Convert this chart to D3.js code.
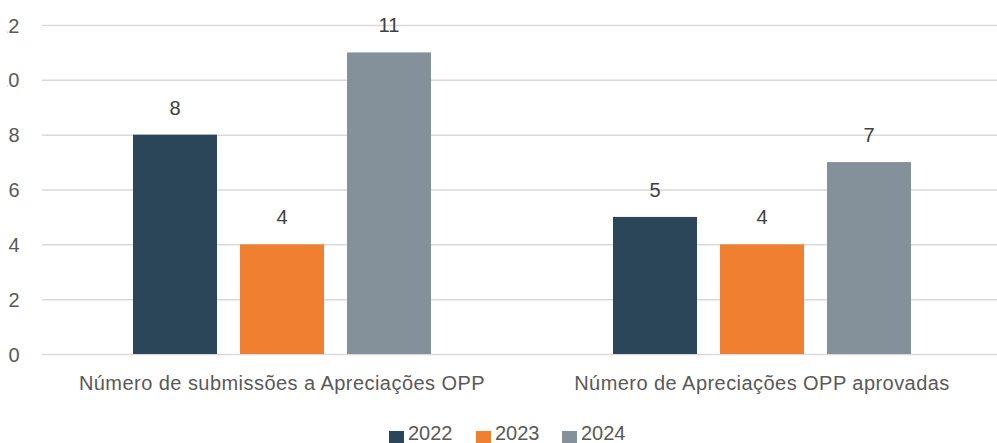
<!DOCTYPE html>
<html>
<head>
<meta charset="utf-8">
<script src="https://cdn.jsdelivr.net/npm/d3@7"></script>
<style>
  html, body { margin: 0; padding: 0; background: #fff; }
  svg { display: block; }
  text { font-family: "Liberation Sans", Arial, sans-serif; }
</style>
</head>
<body>
<svg id="chart" width="997" height="443"></svg>
<script>
// Indicator categories and the yearly series
const categories = ["Número de submissões a Apreciações OPP", "Número de Apreciações OPP aprovadas"];
const years = ["2022", "2023", "2024"];
const values2022 = [8, 5];
const values2023 = [4, 4];
const values2024 = [11, 7];
const yTicks = [0, 2, 4, 6, 8, 10, 12];
const colors = ["#2a4658", "#f07f2f", "#84919b"];

const seriesByYear = [values2022, values2023, values2024];

const svg = d3.select("#chart");
const W = 997, H = 443;

const x0 = d3.scaleBand().domain(categories).range([42, 1002]);
const x1 = d3.scaleBand().domain(years).range([91, 389]).paddingInner(23 / 107);
const y = d3.scaleLinear().domain([0, 12]).range([354, 25]);
const color = d3.scaleOrdinal().domain(years).range(colors);

// Left edge clip for the value axis labels (leading digit falls outside the frame)
svg.append("defs").append("clipPath").attr("id", "leftClip")
  .append("rect").attr("x", 7.5).attr("y", 0).attr("width", W).attr("height", H);

// Gridlines
const grid = d3.axisLeft(y).tickValues(yTicks).tickSize(-(W - 42)).tickFormat("");
svg.append("g")
  .attr("transform", "translate(42,0)")
  .call(grid)
  .call(g => g.select(".domain").remove())
  .call(g => g.selectAll("line").attr("stroke", "#d9d9d9").attr("stroke-width", 1.5));

// Value axis labels
const yAxis = d3.axisLeft(y).tickValues(yTicks).tickSize(0).tickPadding(0);
svg.append("g")
  .attr("clip-path", "url(#leftClip)")
  .append("g")
  .attr("transform", "translate(19.5,0)")
  .call(yAxis)
  .call(g => g.select(".domain").remove())
  .call(g => g.selectAll("text")
    .attr("fill", "#595959")
    .style("font-size", "20px")
    .attr("dy", "0.35em"));

// Bars
const rows = categories.map((c, i) => ({
  cat: c,
  vals: years.map((yr, j) => ({ year: yr, value: seriesByYear[j][i] }))
}));

const groups = svg.append("g").selectAll("g.grp")
  .data(rows).join("g")
  .attr("class", "grp")
  .attr("transform", d => `translate(${x0(d.cat)},0)`);

groups.selectAll("rect")
  .data(d => d.vals).join("rect")
  .attr("x", d => x1(d.year))
  .attr("width", x1.bandwidth())
  .attr("y", d => y(d.value))
  .attr("height", d => y(0) - y(d.value))
  .attr("fill", d => color(d.year));

// Value labels
groups.selectAll("text.val")
  .data(d => d.vals).join("text")
  .attr("class", "val")
  .attr("x", d => x1(d.year) + x1.bandwidth() / 2)
  .attr("y", d => y(d.value) - 20)
  .attr("text-anchor", "middle")
  .attr("fill", "#404040")
  .style("font-size", "20px")
  .text(d => d.value);

// Category labels
const xAxis = d3.axisBottom(x0).tickSize(0).tickPadding(0);
svg.append("g")
  .attr("transform", "translate(0,390)")
  .call(xAxis)
  .call(g => g.select(".domain").remove())
  .call(g => g.selectAll("text")
    .attr("fill", "#595959")
    .attr("dy", 0)
    .style("font-size", "20px")
    .style("letter-spacing", "0.45px"));

// Legend
const legendItems = [
  { year: "2022", x: 389 },
  { year: "2023", x: 476 },
  { year: "2024", x: 562 }
];
const legend = svg.append("g").selectAll("g")
  .data(legendItems).join("g")
  .attr("transform", d => `translate(${d.x},0)`);
legend.append("rect")
  .attr("x", 0).attr("y", 431).attr("width", 15).attr("height", 12)
  .attr("fill", d => color(d.year));
legend.append("text")
  .attr("x", 19).attr("y", 440)
  .attr("fill", "#595959")
  .style("font-size", "20px")
  .text(d => d.year);
</script>
</body>
</html>
